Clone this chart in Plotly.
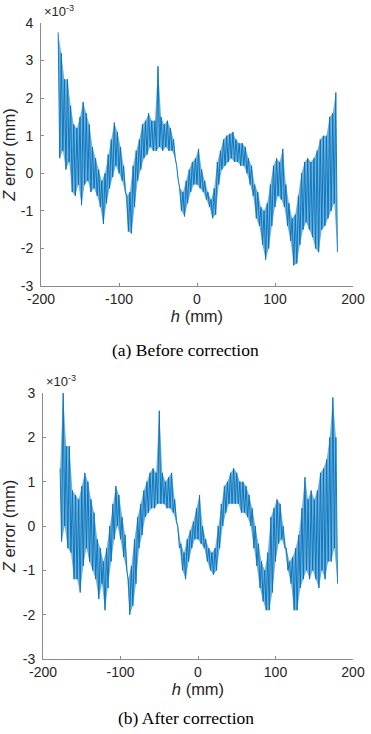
import plotly.graph_objects as go

# envelope sample positions (mm)
h_grid = list(range(-178, 179, 4))

# (a) Before correction: upper / lower excursions, units of 1e-3 mm
hi_a = [3.75, 3.2, 2.5, 2.5, 1.8, 1.3, 1.2, 1.5, 1.9, 1.6, 1.3, 0.7, 0.4, 0.1, -0.2, 0.0,
        0.5, 0.9, 1.35, 1.1, 0.7, 0.2, -0.6, -0.5, 0.2, 0.6, 0.9, 1.3, 1.4, 1.6, 1.4, 1.4,
        2.85, 1.5, 1.3, 1.4, 1.2, 0.9, 0.2, -0.4, -0.5, -0.2, 0.1, 0.3, 0.4, 0.65, 0.1, -0.2,
        -0.5, -0.7, -0.4, 0.3, 0.6, 0.9, 1.0, 1.05, 1.1, 0.9, 0.8, 0.8, 0.7, 0.4, 0.2, -0.3,
        -0.5, -0.9, -1.0, -0.8, -0.3, 0.2, 0.4, 0.3, 0.65, -0.3, -0.8, -1.2, -1.1, -0.6, 0.0,
        0.3, 0.4, 0.3, 0.4, 0.6, 0.9, 1.0, 1.0, 1.5, 1.6, 2.15]
lo_a = [0.4, 0.6, 0.1, 0.3, -0.5, -0.6, -0.3, -0.85, -0.3, -0.2, -0.5, -0.4, -0.6, -0.9,
        -1.35, -0.8, -0.4, -0.1, 0.2, 0.0, -0.2, -0.5, -1.55, -1.6, -0.9, -0.2, 0.1, 0.4,
        0.5, 0.7, 0.6, 0.6, 0.7, 0.6, 0.7, 0.6, 0.6, 0.4, -0.2, -1.0, -1.15, -0.8, -0.5,
        -0.3, -0.3, -0.4, -0.5, -0.7, -0.9, -1.2, -1.1, -0.3, 0.1, 0.2, 0.3, 0.4, 0.3, 0.3,
        0.2, 0.2, 0.0, -0.3, -0.6, -1.2, -1.4, -1.9, -2.3, -2.0, -1.4, -0.9, -0.6, -0.7,
        -0.9, -1.4, -1.8, -2.45, -2.4, -1.9, -1.5, -1.3, -1.5, -1.7, -2.0, -2.1, -1.5, -1.4,
        -1.2, -1.0, -0.8, -2.1]

# (b) After correction
hi_b = [1.3, 3.0, 1.8, 1.8, 0.8, 0.7, 0.6, 0.9, 1.2, 1.0, 0.6, 0.3, -0.3, -0.5, -0.8, -0.5,
        0.0, 0.5, 0.9, 0.7, 0.2, -0.2, -1.2, -0.9, -0.3, 0.2, 0.5, 0.8, 1.0, 1.2, 1.3, 1.2,
        2.6, 1.2, 1.0, 1.1, 1.2, 0.6, 0.0, -0.4, -0.6, -0.3, -0.1, 0.1, 0.4, 0.7, 0.0, -0.3,
        -0.5, -0.6, -0.5, 0.0, 0.5, 0.9, 1.0, 1.2, 1.3, 1.2, 1.0, 1.0, 0.9, 0.7, 0.4, 0.0,
        -0.4, -0.8, -1.0, -0.6, 0.2, 0.4, 0.6, 0.5, 0.0, -0.5, -0.8, -0.7, -0.5, -0.2, 0.4,
        1.1, 0.6, 0.8, 0.6, 0.8, 1.2, 1.3, 1.5, 2.0, 2.9, 2.0]
lo_b = [-0.35, 0.0, -0.5, -0.6, -1.2, -1.2, -1.5, -0.9, -0.5, -0.8, -1.0, -1.2, -1.65, -1.3,
        -1.9, -1.4, -0.8, -0.3, 0.0, -0.3, -0.7, -1.0, -2.0, -1.8, -1.3, -0.5, -0.2, 0.2,
        0.3, 0.4, 0.4, 0.5, 0.5, 0.5, 0.4, 0.4, 0.3, 0.1, -0.5, -1.0, -1.2, -0.8, -0.5,
        -0.3, -0.3, -0.4, -0.5, -0.8, -1.0, -1.1, -1.0, -0.5, 0.0, 0.3, 0.5, 0.5, 0.5, 0.5,
        0.3, 0.3, 0.2, 0.0, -0.5, -0.9, -1.4, -1.7, -1.9, -1.9, -1.5, -0.8, -0.4, -0.3,
        -0.5, -1.0, -1.3, -1.9, -1.9, -1.4, -1.2, -1.0, -1.2, -1.0, -1.2, -1.4, -1.0, -1.2,
        -0.8, -0.8, -0.5, -1.3]

x_ticks = [-200, -100, 0, 100, 200]
x_tick_text = ["-200", "-100", "0", "100", "200"]
y_ticks_a = [-3, -2, -1, 0, 1, 2, 3, 4]
y_tick_text_a = ["-3", "-2", "-1", "0", "1", "2", "3", "4"]
y_ticks_b = [-3, -2, -1, 0, 1, 2, 3]
y_tick_text_b = ["-3", "-2", "-1", "0", "1", "2", "3"]


def zigzag(hi, lo):
    xs, ys = [], []
    for h, u, l in zip(h_grid, hi, lo):
        xs += [h, h + 2]
        ys += [u, l]
    return xs, ys


def band(hi, lo):
    xs = [h for h in h_grid] + [h + 2 for h in reversed(h_grid)]
    ys = list(hi) + list(reversed(lo))
    return xs, ys


LINE = "#0072BD"
AX = "#8c8c8c"
fig = go.Figure()
for hi, lo, xr, yr in [(hi_a, lo_a, "x", "y"), (hi_b, lo_b, "x2", "y2")]:
    bx, by = band(hi, lo)
    fig.add_trace(go.Scatter(x=bx, y=by, mode="lines", fill="toself",
                             fillcolor="rgba(0,114,189,0.55)", line=dict(width=0),
                             xaxis=xr, yaxis=yr, showlegend=False, hoverinfo="skip"))
    zx, zy = zigzag(hi, lo)
    fig.add_trace(go.Scatter(x=zx, y=zy, mode="lines", line=dict(color=LINE, width=0.9),
                             xaxis=xr, yaxis=yr, showlegend=False))

tickfont = dict(family="Liberation Sans, Arial, sans-serif", size=14, color="#262626")
labfont = dict(family="Liberation Sans, Arial, sans-serif", size=16.5, color="#262626")
common_x = dict(range=[-200, 200], tickvals=x_ticks, ticktext=x_tick_text, ticks="inside",
                ticklen=3, tickcolor=AX, showline=True, linecolor=AX, linewidth=1,
                showgrid=False, zeroline=False, tickfont=tickfont, automargin=False)
common_y = dict(ticks="inside", ticklen=3, tickcolor=AX, showline=True, linecolor=AX,
                linewidth=1, showgrid=False, zeroline=False, tickfont=tickfont,
                ticklabelstandoff=4, automargin=False)

fig.update_layout(
    template="none",
    width=371, height=734, margin=dict(l=0, r=0, t=0, b=0),
    paper_bgcolor="white", plot_bgcolor="white",
    xaxis=dict(domain=[41 / 371, 353 / 371], anchor="y",
               title=dict(text="<i>h</i> (mm)", font=labfont, standoff=0), **common_x),
    yaxis=dict(domain=[1 - 286 / 734, 1 - 23 / 734], anchor="x", range=[-3, 4],
               tickvals=y_ticks_a, ticktext=y_tick_text_a,
               title=dict(text="<i>Z</i> error (mm)", font=labfont, standoff=8), **common_y),
    xaxis2=dict(domain=[43 / 371, 353 / 371], anchor="y2",
                title=dict(text="<i>h</i> (mm)", font=labfont, standoff=0), **common_x),
    yaxis2=dict(domain=[1 - 659 / 734, 1 - 393 / 734], anchor="x2", range=[-3, 3],
                tickvals=y_ticks_b, ticktext=y_tick_text_b,
                title=dict(text="<i>Z</i> error (mm)", font=labfont, standoff=8), **common_y),
)

cap = dict(family="Liberation Serif, Times New Roman, serif", size=17.5, color="black")
fig.add_annotation(text="(a) Before correction", x=0.5, y=1 - 350 / 734, xref="paper",
                   yref="paper", showarrow=False, font=cap, xanchor="center", yanchor="middle")
fig.add_annotation(text="(b) After correction", x=0.5, y=1 - 718 / 734, xref="paper",
                   yref="paper", showarrow=False, font=cap, xanchor="center", yanchor="middle")
expfont = dict(family="Liberation Sans, Arial, sans-serif", size=13, color="#262626")
fig.add_annotation(text="×10<sup>-3</sup>", x=42 / 371, y=1 - 21 / 734, xref="paper",
                   yref="paper", showarrow=False, font=expfont, xanchor="left", yanchor="bottom")
fig.add_annotation(text="×10<sup>-3</sup>", x=44 / 371, y=1 - 391 / 734, xref="paper",
                   yref="paper", showarrow=False, font=expfont, xanchor="left", yanchor="bottom")

fig.write_html("out.html", config={"displayModeBar": False},
               post_script="document.body.style.margin='0';document.body.style.overflow='hidden';")
